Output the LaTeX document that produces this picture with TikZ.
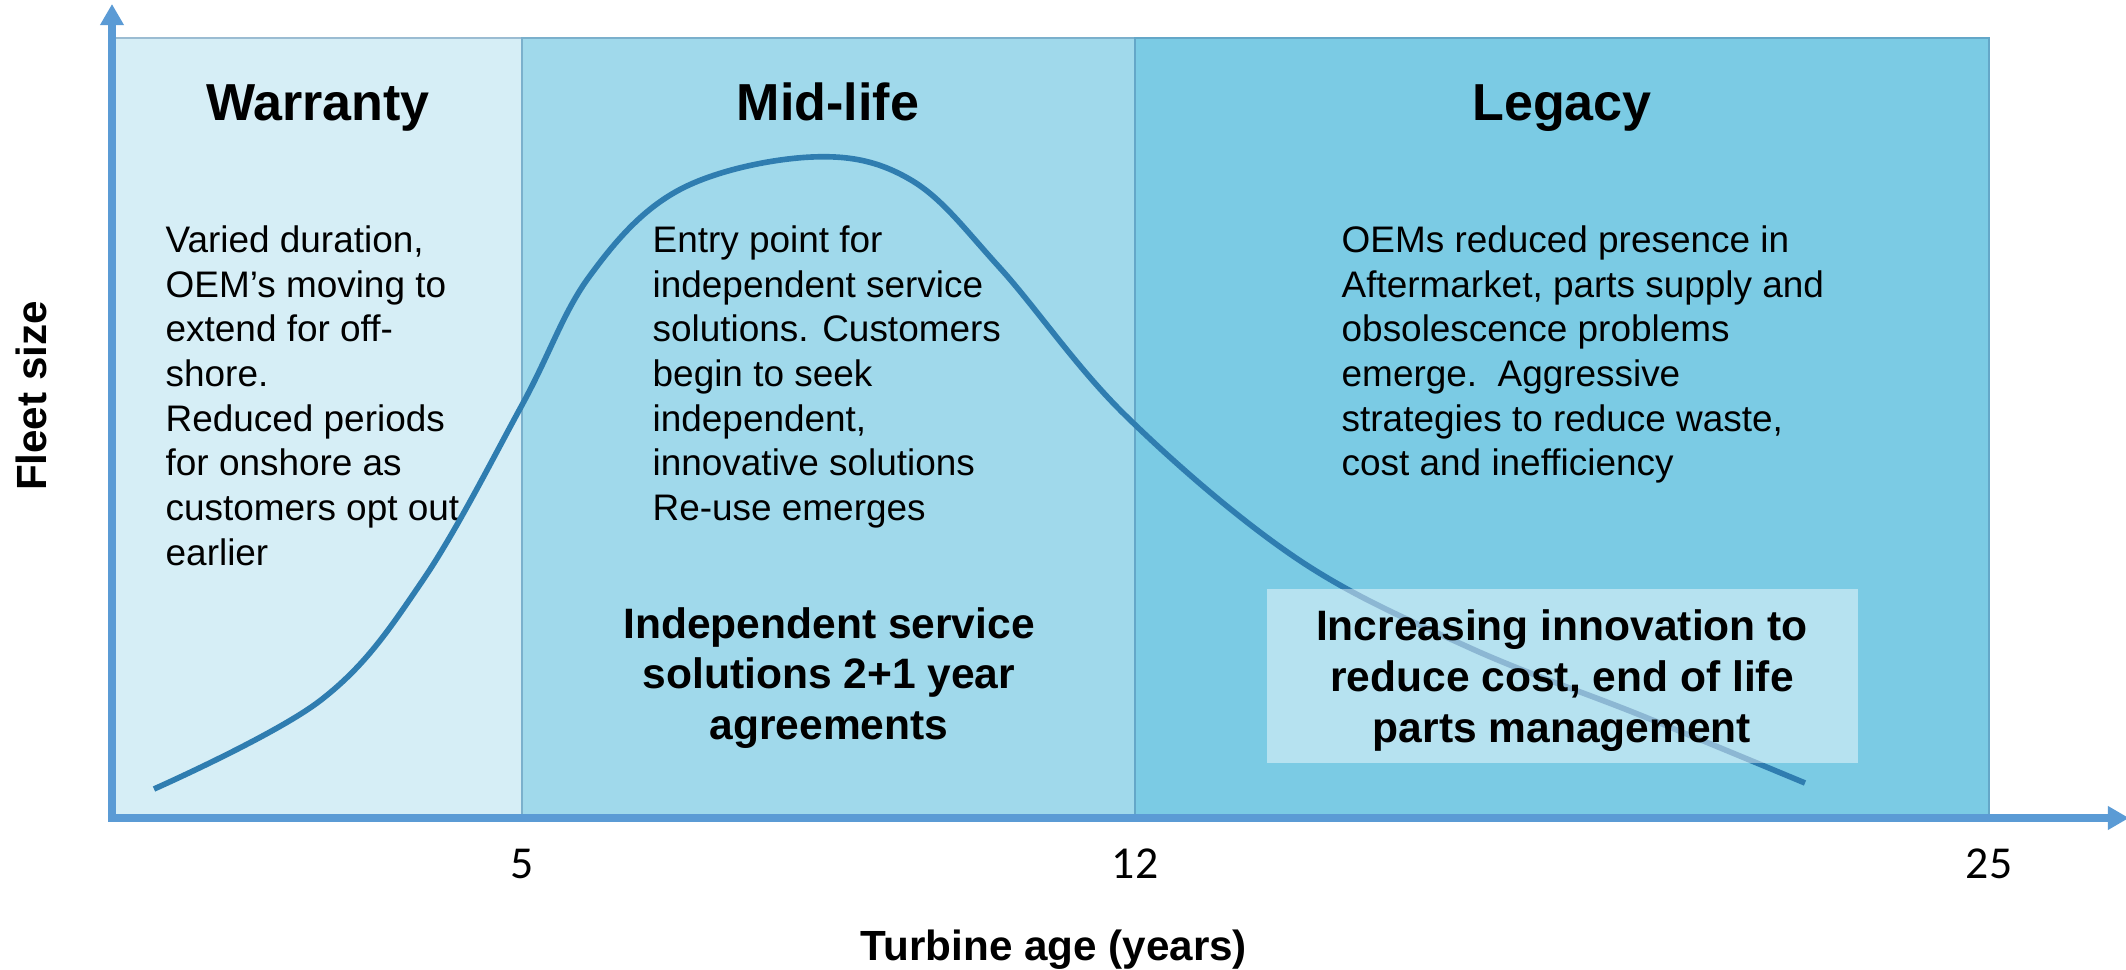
\documentclass[tikz,border=0pt]{standalone}
\usepackage{fontspec}
\setmainfont{Liberation Sans}
\newfontfamily\tickfont{Carlito}
\usetikzlibrary{arrows.meta}
\definecolor{warr}{HTML}{D6EEF6}
\definecolor{midl}{HTML}{A0D9EB}
\definecolor{legc}{HTML}{7BCBE4}
\definecolor{axis}{HTML}{5B9BD5}
\definecolor{fleet}{HTML}{2F7DB0}
\tikzset{
  panel/.style={draw=#1!85!black!70!axis, line width=0.3pt, fill=#1},
  phase/.style={font=\bfseries\fontsize{14.8}{17}\selectfont, anchor=base, inner sep=0pt},
  body/.style={font=\fontsize{10.5}{12.7}\selectfont, align=left, anchor=north west, inner sep=0pt},
  note/.style={font=\bfseries\fontsize{12.1}{14.3}\selectfont, align=center, anchor=north, inner sep=0pt},
  tick/.style={font=\tickfont\fontsize{13}{15}\selectfont, inner sep=0pt},
  albl/.style={font=\bfseries\fontsize{12}{14}\selectfont, inner sep=0pt},
}
\begin{document}
\begin{tikzpicture}[x=0.01cm,y=-0.01cm]
\useasboundingbox (0,0) rectangle (2126,970);
\fill[white] (0,0) rectangle (2126,970);
% the three phases
\draw[panel=warr] (115,38) rectangle (522,818);
\draw[panel=midl] (522,38) rectangle (1135,818);
\draw[panel=legc] (1135,38) rectangle (1989,818);
\node[phase] (warranty) at (318,121) {Warranty};
\node[phase] (midlife) at (828,121) {Mid-life};
\node[phase] (legacy) at (1562,121) {Legacy};
\node[body] (wtext) at (165,225) {Varied duration,\\OEM’s moving to\\extend for off-\\shore.\\Reduced periods\\for onshore as\\customers opt out\\earlier};
\node[body] (mtext) at (652,225) {Entry point for\\independent service\\solutions. Customers\\begin to seek\\independent,\\innovative solutions\\Re-use emerges};
\node[body] (ltext) at (1341,225) {OEMs reduced presence in\\Aftermarket, parts supply and\\obsolescence problems\\emerge.\ \ Aggressive\\strategies to reduce waste,\\cost and inefficiency};
% fleet size curve
\draw[fleet, line width=1.6pt] plot[smooth, tension=0.6] coordinates {
  (154,789) (321,700) (423,580) (522,405) (589,277) (679,190) (812,157)
  (911,180) (1000,268) (1125,415) (1296,558) (1468,647) (1640,715) (1805,783)};
\node[note] (mnote) at (829,607) {Independent service\\solutions 2+1 year\\agreements};
\fill[white, fill opacity=0.45] (1267,589) rectangle (1858,763);
\node[note, font=\bfseries\fontsize{12.1}{14.5}\selectfont] (lnote) at (1562,609) {Increasing innovation to\\reduce cost, end of life\\parts management};
% axes
\coordinate (o) at (112,818);
\coordinate (ytip) at (112,4);
\coordinate (xtip) at (2129,818);
\draw[axis, line width=2pt, {Triangle[length=6pt,width=6.4pt]}-{Triangle[length=6pt,width=6.4pt]}] (ytip) -- (o) -- (xtip);
\node[tick] (t5) at (522,864) {5};
\node[tick] (t12) at (1135,864) {12};
\node[tick] (t25) at (1989,864) {25};
\node[albl] (xlbl) at (1054,950) {Turbine age (years)};
\node[albl, rotate=90] (ylbl) at (31,396) {Fleet size};
\end{tikzpicture}
\end{document}
